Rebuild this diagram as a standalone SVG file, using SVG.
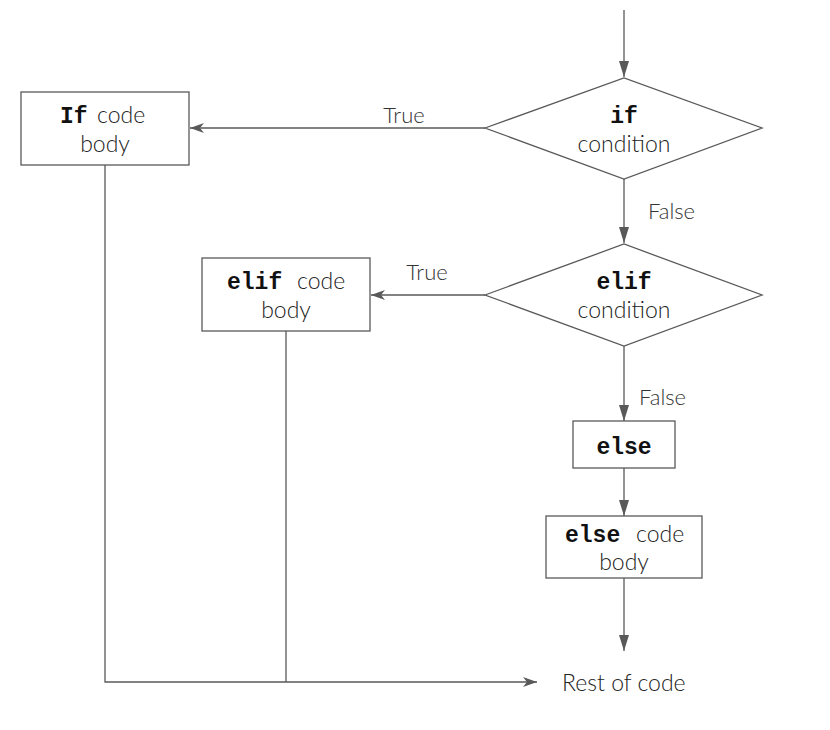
<svg xmlns="http://www.w3.org/2000/svg" width="830" height="730" viewBox="0 0 830 730">
<defs>
<marker id="dn" viewBox="0 0 16 10" refX="16" refY="5" markerWidth="16" markerHeight="10" markerUnits="userSpaceOnUse" orient="auto">
<path d="M0,0 L16,5 L0,10 Z" fill="#595959"/>
</marker>
<marker id="cls" viewBox="0 0 14 10" refX="14" refY="5" markerWidth="14" markerHeight="10" markerUnits="userSpaceOnUse" orient="auto">
<path d="M0,0 L14,5 L0,10 L4,5 Z" fill="#595959"/>
</marker>
</defs>
<style>
.box{fill:#fff;stroke:#595959;stroke-width:1.3}
.ln{fill:none;stroke:#595959;stroke-width:1.3}
.t{font-family:Lato,"Open Sans","Liberation Sans",sans-serif;font-weight:300;font-size:23px;fill:#222}
.m{font-family:"Liberation Mono","Courier New",monospace;font-weight:bold;font-size:23px;fill:#111}
.lb{font-family:Lato,"Open Sans","Liberation Sans",sans-serif;font-weight:300;font-size:22px;fill:#333}
</style>
<rect width="830" height="730" fill="#fff"/>
<g id="connectors">
<line class="ln" x1="624" y1="10" x2="624" y2="77" marker-end="url(#dn)"/>
<line class="ln" x1="485" y1="128" x2="190" y2="128" marker-end="url(#cls)"/>
<line class="ln" x1="624" y1="179" x2="624" y2="243" marker-end="url(#dn)"/>
<line class="ln" x1="485" y1="295" x2="371" y2="295" marker-end="url(#cls)"/>
<line class="ln" x1="624" y1="346" x2="624" y2="421" marker-end="url(#dn)"/>
<line class="ln" x1="624" y1="468" x2="624" y2="516" marker-end="url(#dn)"/>
<line class="ln" x1="624" y1="578" x2="624" y2="651" marker-end="url(#dn)"/>
<polyline class="ln" points="105,165 105,682 537,682" marker-end="url(#cls)"/>
<line class="ln" x1="286" y1="331" x2="286" y2="682"/>
<text class="lb" x="404" y="123" text-anchor="middle">True</text>
<text class="lb" x="648" y="219">False</text>
<text class="lb" x="427" y="280" text-anchor="middle">True</text>
<text class="lb" x="639" y="405">False</text>
</g>
<g id="if-body">
<rect class="box" x="21" y="92" width="168" height="73"/>
<text class="m" x="60" y="123">If</text>
<text class="t" x="97" y="123">code</text>
<text class="t" x="105" y="152" text-anchor="middle">body</text>
</g>
<g id="if-cond">
<polygon class="box" points="485,128 624,78 762,128 624,179"/>
<text class="m" x="624" y="123" text-anchor="middle">if</text>
<text class="t" x="624" y="152" text-anchor="middle">condition</text>
</g>
<g id="elif-body">
<rect class="box" x="202" y="258" width="168" height="73"/>
<text class="m" x="227" y="289">elif</text>
<text class="t" x="297" y="289">code</text>
<text class="t" x="286" y="318" text-anchor="middle">body</text>
</g>
<g id="elif-cond">
<polygon class="box" points="485,295 624,244 762,295 624,346"/>
<text class="m" x="624" y="289" text-anchor="middle">elif</text>
<text class="t" x="624" y="318" text-anchor="middle">condition</text>
</g>
<g id="else">
<rect class="box" x="573" y="421" width="102" height="47"/>
<text class="m" x="624" y="454" text-anchor="middle">else</text>
</g>
<g id="else-body">
<rect class="box" x="546" y="516" width="156" height="62"/>
<text class="m" x="565" y="542">else</text>
<text class="t" x="636" y="542">code</text>
<text class="t" x="624" y="570" text-anchor="middle">body</text>
</g>
<g id="rest">
<text class="t" x="562" y="691">Rest of code</text>
</g>
</svg>
